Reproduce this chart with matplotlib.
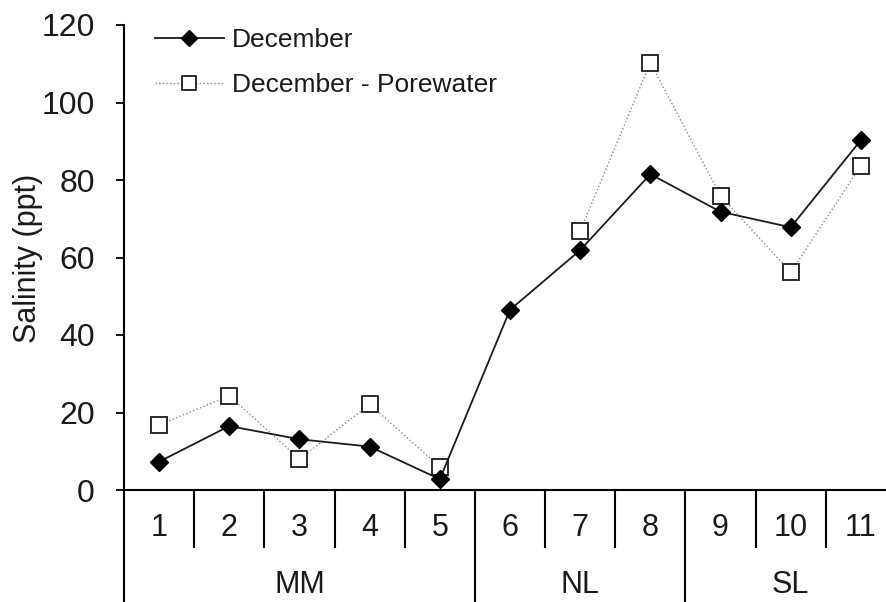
import numpy as np
import matplotlib
matplotlib.use('Agg')
import matplotlib.pyplot as plt

plt.rcParams['font.family'] = ['Liberation Sans', 'DejaVu Sans']

sites = ['1', '2', '3', '4', '5', '6', '7', '8', '9', '10', '11']
groups = ['MM', 'NL', 'SL']
group_sizes = [5, 3, 3]
december = [7.3, 16.5, 13.1, 11.2, 2.8, 46.5, 61.9, 81.5, 71.8, 67.8, 90.3]
porewater = [16.8, 24.3, 8.0, 22.1, 6.0, np.nan, 66.8, 110.3, 75.9, 56.2, 83.7]

W, H = 886, 602
fig = plt.figure(figsize=(W / 100, H / 100), dpi=100)
ax = fig.add_axes([124 / W, 112 / H, 772 / W, 465 / H])

x = np.arange(1, len(sites) + 1)
ax.plot(x, porewater, linestyle=':', color='#8a8a8a', lw=1.0, marker='s', ms=12,
        mfc='white', mec='#1a1a1a', mew=1.3, label='December - Porewater', zorder=2)
ax.plot(x, december, linestyle='-', color='#1a1a1a', lw=1.3, marker='D', ms=9,
        mfc='black', mec='black', label='December', zorder=3)

ax.set_xlim(0.5, len(sites) + 0.5)
ax.set_ylim(0, 120)
ax.set_yticks(range(0, 121, 20))
ax.set_xticks([])
for s in ['top', 'right']:
    ax.spines[s].set_visible(False)
ax.spines['left'].set_visible(False)
ax.spines['bottom'].set_linewidth(1.5)
ax.tick_params(axis='y', direction='out', length=6, width=1.3, pad=15,
               labelsize=23, labelcolor='#1a1a1a')

trans = ax.get_xaxis_transform()
bottom = -112 / 465
mid = -57 / 465
# left border down to the bottom of the figure
ax.plot([0.5, 0.5], [1, bottom], transform=trans, color='black', lw=1.5, clip_on=False)

edges = np.cumsum(group_sizes)[:-1] + 0.5
for i in range(1, len(sites)):
    b = i + 0.5
    y0 = bottom if b in edges else mid
    ax.plot([b, b], [0, y0], transform=trans, color='black', lw=1.5, clip_on=False)

for xi, s in zip(x, sites):
    ax.annotate(s, xy=(xi, 0), xycoords=trans, xytext=(0, -38 * 0.72),
                textcoords='offset points', ha='center', va='center',
                fontsize=22, color='#1a1a1a')

start = 0.5
for g, n in zip(groups, group_sizes):
    c = start + n / 2
    ax.annotate(g, xy=(c, 0), xycoords=trans, xytext=(0, -95 * 0.72),
                textcoords='offset points', ha='center', va='center',
                fontsize=22, color='#1a1a1a')
    start += n

fig.text(28 / W, 1 - 258 / H, 'Salinity (ppt)', rotation=90, ha='center',
         va='center', fontsize=22, color='#1a1a1a')

h, l = ax.get_legend_handles_labels()
leg = ax.legend(h[::-1], l[::-1], loc='upper left', bbox_to_anchor=(155 / W, 1 - 28 / H),
                bbox_transform=fig.transFigure, frameon=False, fontsize=19,
                handlelength=2.6, handletextpad=0.3, labelspacing=0.8,
                borderpad=0, borderaxespad=0, markerscale=0.85)
for t in leg.get_texts():
    t.set_color('#1a1a1a')

fig.savefig('out.png', dpi=100)
